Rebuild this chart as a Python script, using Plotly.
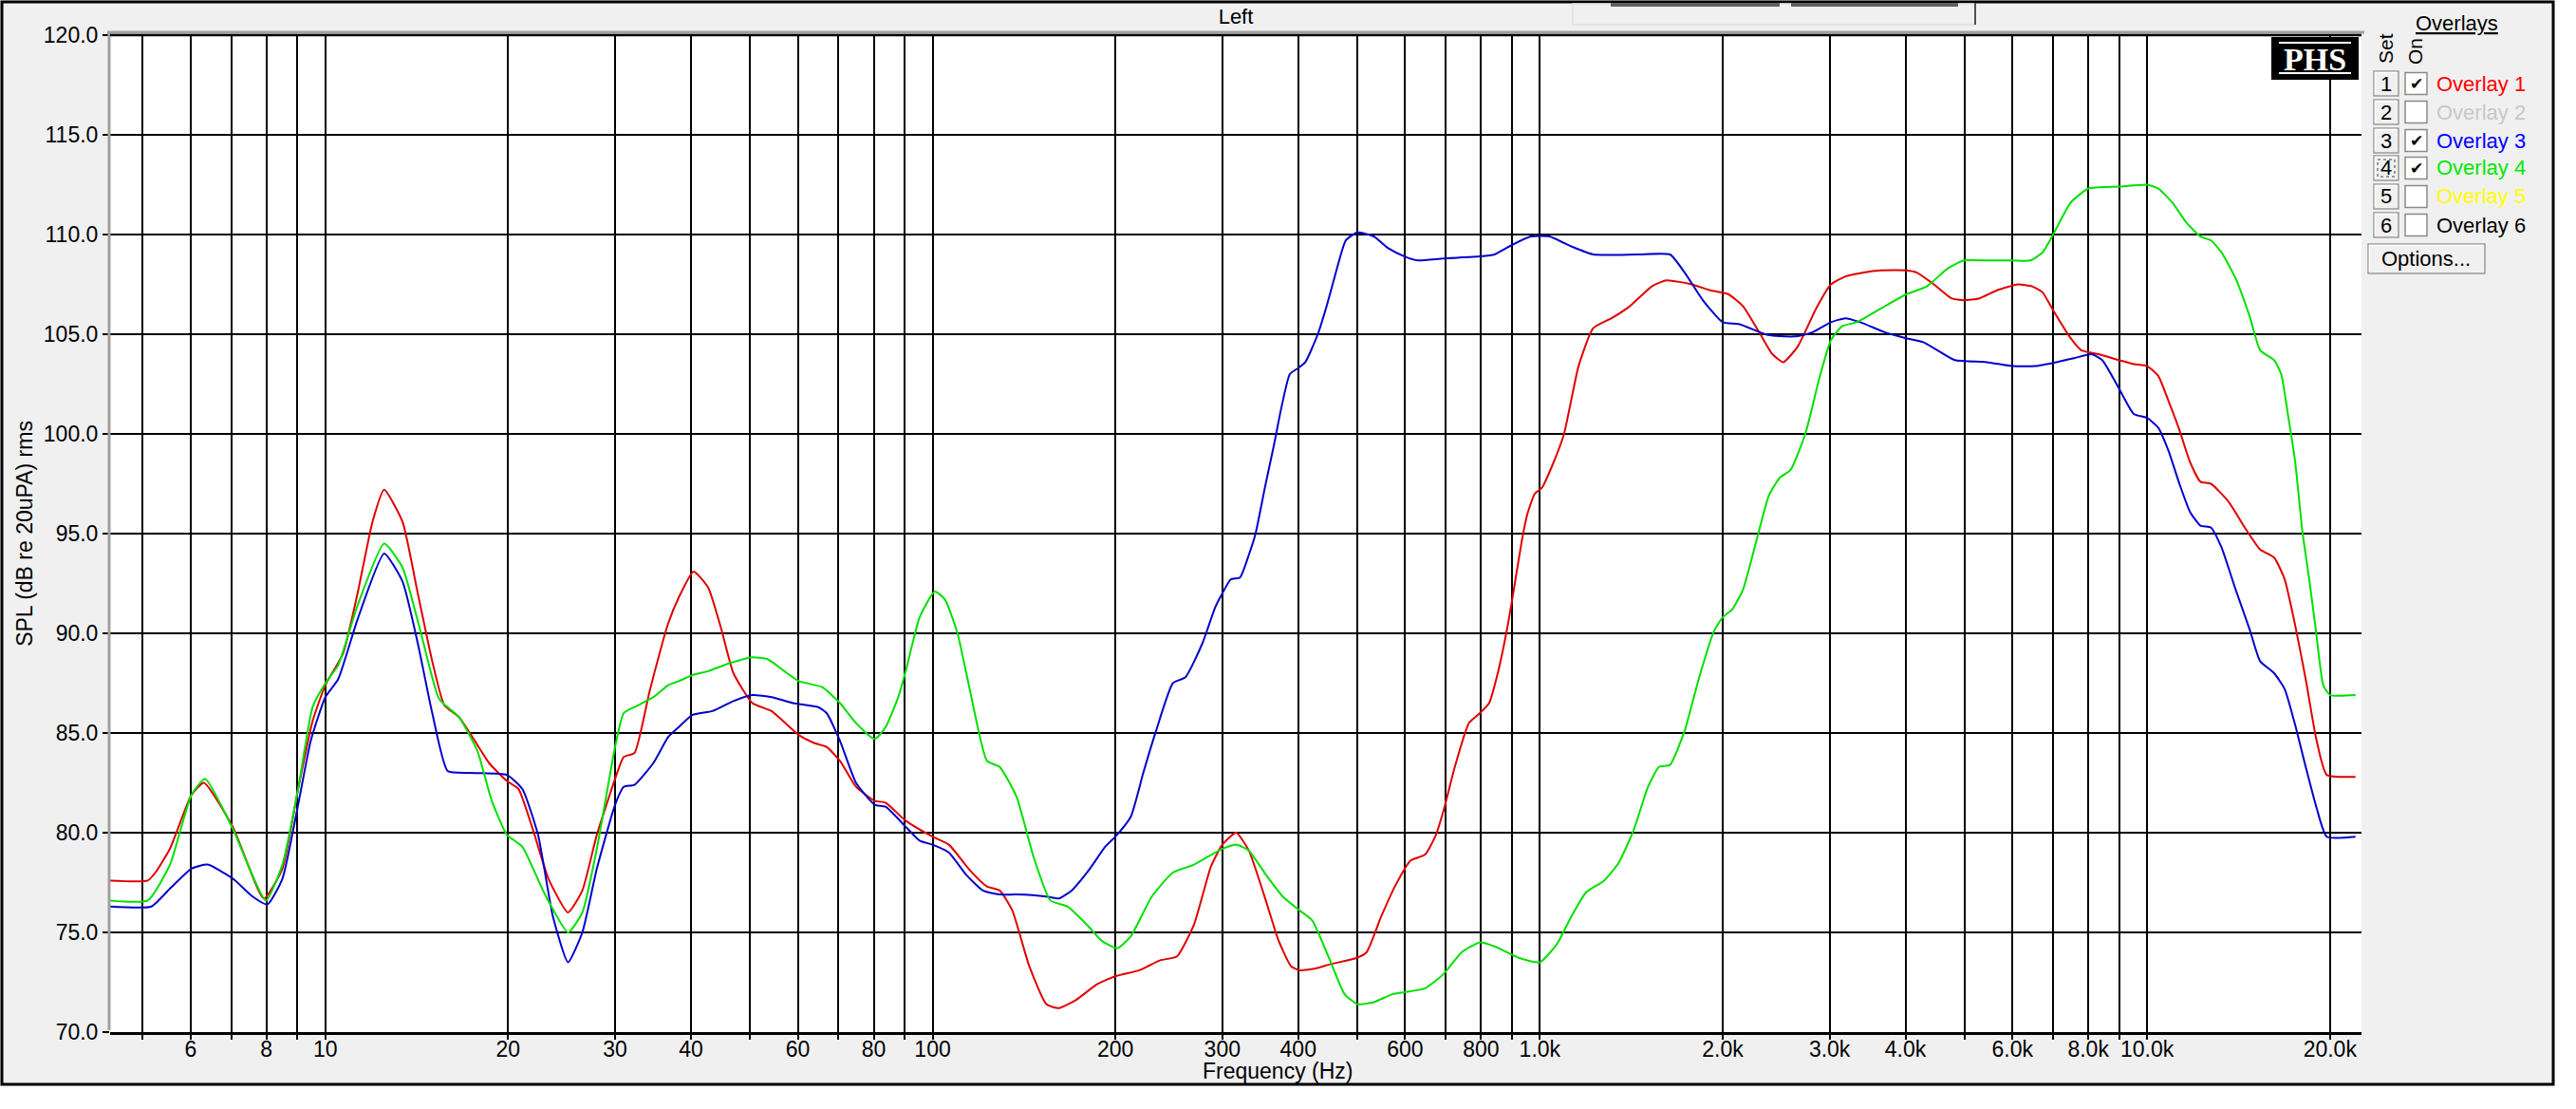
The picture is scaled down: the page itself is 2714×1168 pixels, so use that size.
import plotly.graph_objects as go

# ---------------- data ----------------
freq_overlay1 = [4.42, 5.10, 5.25, 5.55, 6.02, 6.31, 7.04, 7.92, 8.50, 9.02,
                 9.53, 10.0, 10.7, 11.3, 11.96, 12.5, 13.4, 14.2, 15.0, 15.7,
                 16.6, 17.3, 18.6, 19.9, 20.8, 22.0, 23.3, 25.1, 26.5, 28.0,
                 30.0, 31.0, 32.3, 34.2, 36.7, 38.2, 40.4, 42.7, 44.8, 47.0,
                 50.5, 54.3, 60.2, 63.8, 66.9, 70.4, 74.8, 80.3, 83.7, 90.3,
                 100, 106.4, 115.3, 122.9, 129, 135.3, 144.3, 153.9, 161.4, 172.1,
                 186.5, 200, 218.9, 237.1, 252.7, 269.5, 287.3, 300, 316.2, 331.8,
                 353.8, 371.2, 389.4, 402.1, 428.6, 451.2, 497.3, 518.3, 548, 579.3,
                 612.2, 647.1, 674.5, 695.4, 722.9, 764.1, 796.9, 824.9, 854, 884.1,
                 902.7, 934.6, 954.1, 980.8, 1008, 1051, 1096, 1158, 1224, 1312,
                 1406, 1529, 1616, 1780, 1908, 2045, 2161, 2317, 2415, 2518,
                 2661, 2852, 3015, 3187, 3415, 3649, 4010, 4168, 4454, 4760,
                 4988, 5297, 5659, 6130, 6464, 6727, 7001, 7483, 7788, 8323,
                 8981, 9506, 10000, 10435, 10860, 11302, 11762, 12241, 12740, 13616,
                 14554, 15349, 16188, 16849, 17532, 18245, 18990, 19760, 22034]
spl_overlay1 = [77.6, 77.6, 78.0, 79.2, 81.9, 82.5, 80.3, 76.7, 78.2, 82.2,
                85.6, 87.4, 89.0, 92.0, 95.6, 97.2, 95.6, 92.0, 88.6, 86.4,
                85.8, 85.0, 83.5, 82.6, 82.2, 80.1, 77.7, 76.0, 77.1, 79.9,
                82.7, 83.8, 84.0, 87.1, 90.5, 91.8, 93.1, 92.3, 90.3, 88.0,
                86.5, 86.1, 84.9, 84.5, 84.3, 83.6, 82.3, 81.6, 81.5, 80.6,
                79.8, 79.4, 78.1, 77.3, 77.1, 76.1, 73.3, 71.4, 71.2, 71.6,
                72.4, 72.8, 73.1, 73.6, 73.8, 75.4, 78.3, 79.4, 80.0, 79.1,
                76.6, 74.6, 73.3, 73.1, 73.2, 73.4, 73.7, 74.0, 75.8, 77.4,
                78.6, 78.9, 79.9, 81.2, 83.2, 85.5, 86.0, 86.5, 88.1, 90.3,
                91.9, 94.7, 96.0, 97.0, 97.3, 98.5, 100.0, 103.4, 105.3, 105.8,
                106.4, 107.4, 107.7, 107.5, 107.2, 107.0, 106.4, 104.9, 104.0, 103.6,
                104.4, 106.3, 107.5, 107.9, 108.1, 108.2, 108.2, 108.1, 107.5, 106.8,
                106.7, 106.8, 107.2, 107.5, 107.4, 107.1, 106.2, 104.8, 104.2, 104.0,
                103.7, 103.5, 103.4, 102.9, 101.6, 100.2, 98.6, 97.6, 97.5, 96.6,
                95.2, 94.2, 93.8, 92.7, 90.4, 87.7, 84.7, 82.9, 82.8]

freq_overlay3 = [4.42, 5.17, 5.55, 6.02, 6.40, 7.04, 7.59, 8.03, 8.50, 9.02,
                 9.46, 10.0, 10.5, 11.3, 12.5, 13.4, 14.2, 15.0, 15.9, 17.3,
                 19.9, 21.1, 22.4, 23.7, 25.1, 26.5, 28.0, 30.0, 31.0, 32.3,
                 34.7, 36.7, 38.2, 40.2, 43.4, 47.0, 50.5, 54.3, 58.9, 64.8,
                 66.9, 70.4, 74.8, 80.3, 83.7, 90.3, 95.2, 100, 106.4, 113.5,
                 121, 129, 137.5, 153.9, 161.4, 169.4, 180.6, 192.5, 200, 212,
                 222.3, 233.3, 248.7, 260.9, 278.2, 292, 300, 309.7, 320.8, 332.3,
                 340.3, 352.5, 365.2, 374.0, 387.5, 400, 411.0, 430.9, 446.4, 462.4,
                 479.0, 500, 533, 563.5, 598.8, 629.4, 693.5, 796.9, 842.2, 902.7,
                 967.3, 1037, 1127, 1224, 1446, 1638, 1731, 1856, 2000, 2132,
                 2349, 2483, 2661, 2813, 3015, 3187, 3369, 3698, 4010, 4280,
                 4513, 4824, 5439, 6000, 6551, 7096, 7583, 8104, 8435, 8981,
                 9506, 10000, 10435, 10860, 11302, 11762, 12241, 12740, 13261, 13984,
                 14750, 15349, 16188, 16849, 17532, 18245, 18990, 19760, 22034]
spl_overlay3 = [76.3, 76.3, 77.2, 78.2, 78.4, 77.7, 76.8, 76.4, 77.7, 81.4,
                84.6, 86.8, 87.7, 90.7, 94.0, 92.6, 89.5, 86.0, 83.1, 83.0,
                82.9, 82.2, 79.9, 75.8, 73.5, 75.0, 78.2, 81.4, 82.3, 82.4,
                83.5, 84.8, 85.3, 85.9, 86.1, 86.6, 86.9, 86.8, 86.5, 86.3,
                86.0, 84.6, 82.5, 81.4, 81.3, 80.3, 79.6, 79.4, 79.0, 77.9,
                77.1, 76.9, 76.9, 76.8, 76.7, 77.1, 78.1, 79.3, 79.8, 80.8,
                83.0, 85.1, 87.5, 87.8, 89.5, 91.3, 92.0, 92.7, 92.8, 94.0,
                95.0, 97.3, 99.5, 101.1, 103.0, 103.3, 103.6, 105.0, 106.5, 108.2,
                109.7, 110.1, 109.9, 109.3, 108.9, 108.7, 108.8, 108.9, 109.0, 109.5,
                109.9, 109.9, 109.4, 109.0, 109.0, 109.0, 108.1, 106.7, 105.6, 105.5,
                105.0, 104.9, 104.9, 105.1, 105.6, 105.8, 105.6, 105.1, 104.8, 104.6,
                104.2, 103.7, 103.6, 103.4, 103.4, 103.6, 103.8, 104.0, 103.7, 102.3,
                101.0, 100.8, 100.3, 99.1, 97.5, 96.1, 95.4, 95.3, 94.3, 92.2,
                90.2, 88.6, 88.0, 87.2, 85.4, 83.3, 81.3, 79.8, 79.8]

freq_overlay4 = [4.42, 5.10, 5.55, 6.02, 6.34, 7.04, 7.98, 8.50, 9.02, 9.53,
                 10.0, 10.5, 11.3, 12.5, 13.4, 14.4, 15.4, 16.6, 17.8, 18.8,
                 19.9, 21.1, 23.0, 25.1, 26.5, 28.0, 30.0, 31.0, 32.3, 34.7,
                 36.7, 38.2, 40.2, 42.7, 46.3, 50.5, 53.5, 57.0, 60.2, 65.8,
                 70.4, 74.8, 80.3, 83.7, 87.8, 90.3, 95.2, 100.8, 104.8, 109.9,
                 115.3, 122.9, 129, 137.5, 146.6, 156.3, 166.7, 180.6, 189.5, 201.3,
                 212, 229.6, 248.7, 269.5, 300, 316.2, 331.8, 353.8, 377.2, 402.1,
                 421.8, 451.2, 477, 500.6, 533, 571.4, 598.8, 647.1, 693.5, 743.3,
                 796.9, 842.2, 928.2, 1000, 1066, 1127, 1191, 1276, 1349, 1426,
                 1507, 1571, 1638, 1731, 1830, 1935, 2000, 2074, 2161, 2285,
                 2382, 2483, 2588, 2736, 2892, 3015, 3144, 3322, 3462, 3650,
                 4010, 4337, 4697, 4988, 5512, 6000, 6421, 6727, 7001, 7483,
                 7997, 8981, 10000, 10435, 11005, 11605, 12241, 12740, 13261, 13984,
                 14750, 15349, 16188, 16625, 17071, 17532, 18003, 18490, 18990, 19498,
                 20026, 22034]
spl_overlay4 = [76.6, 76.6, 78.4, 81.9, 82.7, 80.2, 76.6, 78.4, 82.2, 86.3,
                87.5, 88.4, 91.4, 94.5, 93.3, 89.9, 86.7, 85.8, 84.1, 81.6,
                79.9, 79.3, 76.9, 75.0, 76.0, 79.2, 84.3, 86.0, 86.3, 86.8,
                87.4, 87.6, 87.9, 88.1, 88.5, 88.8, 88.7, 88.1, 87.6, 87.3,
                86.5, 85.5, 84.7, 85.3, 86.8, 88.1, 90.8, 92.1, 91.7, 90.0,
                87.1, 83.6, 83.3, 81.8, 78.8, 76.6, 76.3, 75.3, 74.6, 74.2,
                74.8, 76.8, 78.0, 78.4, 79.2, 79.4, 79.1, 77.9, 76.8, 76.1,
                75.6, 73.6, 71.9, 71.4, 71.5, 71.9, 72.0, 72.2, 72.9, 74.0,
                74.5, 74.3, 73.7, 73.5, 74.4, 75.8, 77.0, 77.6, 78.5, 80.1,
                82.3, 83.3, 83.4, 85.1, 87.8, 90.1, 90.8, 91.2, 92.2, 94.9,
                96.9, 97.8, 98.2, 100.0, 102.9, 104.7, 105.4, 105.6, 105.9, 106.3,
                107.0, 107.4, 108.3, 108.7, 108.7, 108.7, 108.7, 109.1, 110.0, 111.6,
                112.3, 112.4, 112.5, 112.3, 111.6, 110.6, 109.9, 109.7, 109.1, 107.8,
                105.9, 104.2, 103.7, 103.0, 100.9, 98.6, 95.2, 92.7, 90.0, 87.4,
                86.9, 86.9]

assert len(freq_overlay1) == len(spl_overlay1)
assert len(freq_overlay3) == len(spl_overlay3)
assert len(freq_overlay4) == len(spl_overlay4)

x_grid_values = [5, 6, 7, 8, 9, 10, 20, 30, 40, 50, 60, 70, 80, 90,
                 100, 200, 300, 400, 500, 600, 700, 800, 900,
                 1000, 2000, 3000, 4000, 5000, 6000, 7000, 8000, 9000,
                 10000, 20000]
x_tick_labels = ["", "6", "", "8", "", "10", "20", "30", "40", "", "60", "", "80", "",
                 "100", "200", "300", "400", "", "600", "", "800", "",
                 "1.0k", "2.0k", "3.0k", "4.0k", "", "6.0k", "", "8.0k", "",
                 "10.0k", "20.0k"]
y_tick_values = [70, 75, 80, 85, 90, 95, 100, 105, 110, 115, 120]
y_tick_labels = ["70.0", "75.0", "80.0", "85.0", "90.0", "95.0", "100.0",
                 "105.0", "110.0", "115.0", "120.0"]

overlay_names = ["Overlay 1", "Overlay 2", "Overlay 3", "Overlay 4", "Overlay 5", "Overlay 6"]
overlay_colors = ["#FF0000", "#C8C8C8", "#0000FF", "#00E800", "#FFFF00", "#000000"]
overlay_on = [True, False, True, True, False, False]

# ---------------- figure ----------------
FONT = "Liberation Sans, Arial, sans-serif"
WIDTH, HEIGHT = 2714, 1168
L, R, T, B = 116, 2488, 37, 1087
PW, PH = R - L, B - T


def fx(p):
    return (p - L) / PW


def fy(p):
    return (B - p) / PH


def note(px, py, text, size=22, color="black", family=FONT, xanchor="center", angle=0):
    return dict(xref="paper", yref="paper", x=fx(px), y=fy(py), text=text,
                showarrow=False, xanchor=xanchor, yanchor="middle", textangle=angle,
                font=dict(family=family, size=size, color=color))


fig = go.Figure()
line_specs = [
    (freq_overlay1, spl_overlay1, "Overlay 1", "#E00000"),
    (freq_overlay3, spl_overlay3, "Overlay 3", "#0000CC"),
    (freq_overlay4, spl_overlay4, "Overlay 4", "#00E000"),
]
for fr, sp, nm, col in line_specs:
    fig.add_trace(go.Scatter(x=fr, y=sp, name=nm, mode="lines",
                             line=dict(color=col, width=2, shape="spline", smoothing=0.5),
                             showlegend=False))

shapes = []
annotations = []

# white area outside the window frame
shapes.append(dict(type="rect", xref="paper", yref="paper", layer="below",
                   x0=fx(2691), x1=fx(WIDTH + 10), y0=fy(-10), y1=fy(HEIGHT + 10),
                   fillcolor="white", line=dict(width=0)))
shapes.append(dict(type="rect", xref="paper", yref="paper", layer="below",
                   x0=fx(-10), x1=fx(WIDTH + 10), y0=fy(1144), y1=fy(HEIGHT + 10),
                   fillcolor="white", line=dict(width=0)))
# window frame
shapes.append(dict(type="rect", xref="paper", yref="paper", layer="above",
                   x0=fx(2), x1=fx(2690), y0=fy(2), y1=fy(1142),
                   line=dict(color="black", width=3)))
# grey plot border (top & left)
shapes.append(dict(type="line", xref="paper", yref="paper", layer="above",
                   x0=fx(113), x1=fx(2491), y0=fy(34), y1=fy(34),
                   line=dict(color="#A0A0A0", width=3)))
shapes.append(dict(type="line", xref="paper", yref="paper", layer="above",
                   x0=fx(115), x1=fx(115), y0=fy(33), y1=fy(1085),
                   line=dict(color="#A0A0A0", width=3)))
# top edge black line (120 dB)
shapes.append(dict(type="line", xref="paper", yref="paper", layer="above",
                   x0=0, x1=1, y0=1, y1=1, line=dict(color="black", width=2.5)))

# header widgets
shapes.append(dict(type="rect", xref="paper", yref="paper", layer="above",
                   x0=fx(1657), x1=fx(2081), y0=fy(4), y1=fy(26),
                   line=dict(color="#D8E0E8", width=1.5)))
shapes.append(dict(type="rect", xref="paper", yref="paper", layer="above",
                   x0=fx(1697), x1=fx(1875), y0=fy(3), y1=fy(7),
                   fillcolor="#606060", line=dict(width=0)))
shapes.append(dict(type="rect", xref="paper", yref="paper", layer="above",
                   x0=fx(1887), x1=fx(2063), y0=fy(3), y1=fy(7),
                   fillcolor="#606060", line=dict(width=0)))
shapes.append(dict(type="line", xref="paper", yref="paper", layer="above",
                   x0=fx(2081), x1=fx(2081), y0=fy(3), y1=fy(26),
                   line=dict(color="#505050", width=2)))

# PHS logo
shapes.append(dict(type="rect", xref="paper", yref="paper", layer="above",
                   x0=fx(2393), x1=fx(2485), y0=fy(39), y1=fy(84),
                   fillcolor="black", line=dict(width=0)))
for yy in (45, 77):
    shapes.append(dict(type="line", xref="paper", yref="paper", layer="above",
                       x0=fx(2401), x1=fx(2477), y0=fy(yy), y1=fy(yy),
                       line=dict(color="white", width=2)))
annotations.append(note(2439, 62, "<b>PHS</b>", size=34, color="white",
                        family="Liberation Serif, Times New Roman, serif"))

# x-axis title (sits right of centre in the reference)
annotations.append(note(1346, 1128, "Frequency (Hz)", size=23))

# Overlays panel
annotations.append(note(2588, 24, "<u>Overlays</u>", size=22))
annotations.append(note(2514, 51, "Set", size=21, angle=-90))
annotations.append(note(2544, 54, "On", size=21, angle=-90))

row_y = [88, 118, 148, 177, 207, 237]
for i, yc in enumerate(row_y):
    # "Set" button
    shapes.append(dict(type="rect", xref="paper", yref="paper", layer="above",
                       x0=fx(2501), x1=fx(2527), y0=fy(yc - 13), y1=fy(yc + 13),
                       fillcolor="#F0F0F0", line=dict(color="#9A9A9A", width=1.5)))
    shapes.append(dict(type="path", xref="paper", yref="paper", layer="above",
                       path=f"M {fx(2502.5)} {fy(yc + 11)} L {fx(2502.5)} {fy(yc - 11.5)} L {fx(2525)} {fy(yc - 11.5)}",
                       line=dict(color="white", width=1.5)))
    annotations.append(note(2514, yc, str(i + 1), size=22))
    # "On" checkbox
    shapes.append(dict(type="rect", xref="paper", yref="paper", layer="above",
                       x0=fx(2534), x1=fx(2557), y0=fy(yc - 11.5), y1=fy(yc + 11.5),
                       fillcolor="white", line=dict(color="#8A8A8A", width=1.5)))
    if overlay_on[i]:
        annotations.append(note(2545.5, yc, "\u2714", size=17, family="DejaVu Sans"))
    annotations.append(note(2565, yc, overlay_names[i], size=22,
                            color=overlay_colors[i], xanchor="left"))
# focus rectangle on button 4
shapes.append(dict(type="rect", xref="paper", yref="paper", layer="above",
                   x0=fx(2505), x1=fx(2523), y0=fy(row_y[3] - 9), y1=fy(row_y[3] + 9),
                   line=dict(color="#404040", width=1, dash="dot")))
# Options button
shapes.append(dict(type="rect", xref="paper", yref="paper", layer="above",
                   x0=fx(2495), x1=fx(2618), y0=fy(257), y1=fy(288),
                   fillcolor="#F0F0F0", line=dict(color="#9A9A9A", width=1.5)))
shapes.append(dict(type="path", xref="paper", yref="paper", layer="above",
                   path=f"M {fx(2496.5)} {fy(286)} L {fx(2496.5)} {fy(258.5)} L {fx(2616)} {fy(258.5)}",
                   line=dict(color="white", width=1.5)))
annotations.append(note(2556, 272, "Options...", size=22))

fig.update_layout(
    width=WIDTH, height=HEIGHT, autosize=False,
    margin=dict(l=L, r=WIDTH - R, t=T, b=HEIGHT - B, pad=0),
    paper_bgcolor="#F0F0F0", plot_bgcolor="white",
    font=dict(family=FONT, size=23, color="black"),
    title=dict(text="Left", x=(L + PW / 2) / WIDTH, xref="container", xanchor="center",
               y=1 - 17 / HEIGHT, yref="container", yanchor="middle",
               font=dict(family=FONT, size=22, color="black")),
    showlegend=False,
    shapes=shapes,
    annotations=annotations,
    xaxis=dict(type="log", range=[0.6456, 4.353],
               tickmode="array", tickvals=x_grid_values, ticktext=x_tick_labels,
               showgrid=True, gridcolor="black", gridwidth=2,
               ticks="outside", ticklen=5, tickwidth=2, tickcolor="black",
               ticklabelstandoff=-10,
               showline=True, linecolor="black", linewidth=3,
               zeroline=False, tickangle=0,
               tickfont=dict(family=FONT, size=23, color="black")),
    yaxis=dict(range=[70, 120], tickmode="array", tickvals=y_tick_values,
               ticktext=y_tick_labels,
               showgrid=True, gridcolor="black", gridwidth=2,
               ticks="outside", ticklen=7, tickwidth=2, tickcolor="black",
               showline=False, zeroline=False,
               tickfont=dict(family=FONT, size=23, color="black"),
               title=dict(text="SPL (dB re 20uPA) rms", standoff=4,
                          font=dict(family=FONT, size=23, color="black"))),
)

fig.write_html("out.html", config={"displayModeBar": False},
               post_script="document.body.style.margin='0';document.body.style.overflow='hidden';")
